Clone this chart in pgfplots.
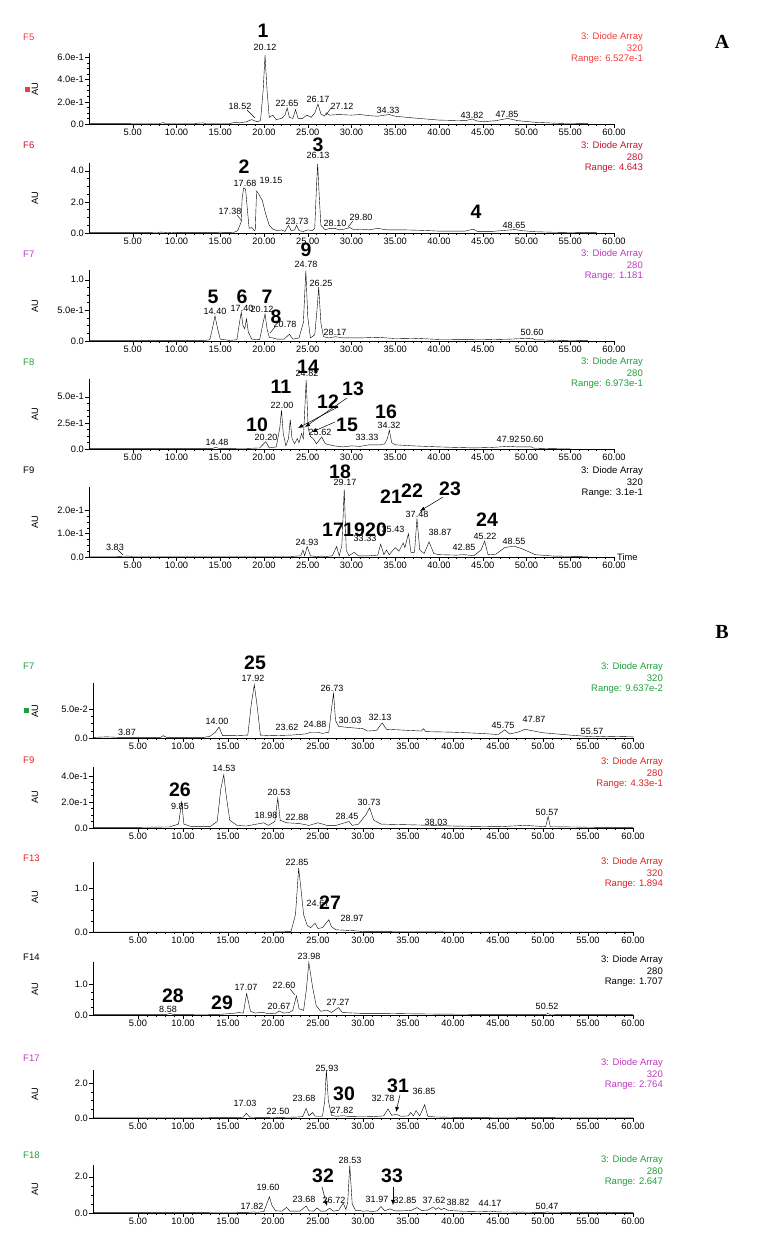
\documentclass[border=0pt]{standalone}
\usepackage{pgfplots}
\pgfplotsset{compat=1.18}
\usetikzlibrary{arrows.meta}
\usepackage{fontspec}
\setmainfont{Liberation Sans}
\newfontfamily\timesfont{Liberation Serif}

\definecolor{cPink}{HTML}{F03C3C}
\definecolor{cDred}{HTML}{C8102E}
\definecolor{cMag}{HTML}{C038C0}
\definecolor{cGrn}{HTML}{1E9E3C}
\definecolor{cRed}{HTML}{E02020}

\newcommand\tkf{\fontsize{9.3}{10}\selectfont}
\newcommand\pkf{\fontsize{9}{10}\selectfont}
\newcommand\bnf{\fontsize{19.5}{20}\selectfont\bfseries}
\newcommand\inff{\fontsize{9.5}{11}\selectfont}

\pgfplotsset{
  chrom/.style={
    scale only axis, anchor=south west,
    axis lines=left, axis line style={-, line width=0.6pt},
    xmin=0, xmax=60, ymin=0,
    xtick={5,10,...,60},
    xticklabels={5.00,10.00,15.00,20.00,25.00,30.00,35.00,40.00,45.00,50.00,55.00,60.00},
    minor x tick num=4, minor y tick num=3,
    tick align=outside, major tick length=4pt, minor tick length=2pt,
    tick style={black, line width=0.5pt},
    ticklabel style={font=\tkf, inner sep=1pt},
    scaled y ticks=false,
    clip=false,
    cycle list={{black, line width=0.6pt, mark=none}},
  },
  panA/.style={chrom, width=525pt},
  panB/.style={chrom, width=540pt},
}

\begin{document}
\begin{tikzpicture}
\path[use as bounding box] (0,0) rectangle (759pt,1255pt);

% ---------------- A ----------------
% F5
\begin{axis}[panA, at={(89pt,1131pt)}, height=71pt, ymax=0.64,
  ytick={0,0.2,0.4,0.6}, yticklabels={0.0,2.0e-1,4.0e-1,6.0e-1}]
\addplot coordinates {(0,0.003)(2,0.003)(5,0.004)(8,0.004)(8.5,0.012)(8.7,0.004)(12,0.004)(13,0.01)(13.4,0.004)(16,0.004)(16.8,0.015)(17.2,0.01)(18,0.02)(18.6,0.04)(19.2,0.02)(19.6,0.03)(19.9,0.3)(20.12,0.62)(20.35,0.3)(20.6,0.06)(21,0.08)(21.4,0.04)(22.0,0.05)(22.4,0.08)(22.65,0.145)(22.9,0.06)(23.3,0.05)(23.6,0.13)(23.9,0.05)(24.4,0.05)(24.9,0.08)(25.4,0.06)(25.8,0.1)(26.17,0.18)(26.5,0.09)(26.9,0.07)(27.12,0.1)(27.5,0.08)(28.5,0.085)(30,0.08)(31,0.085)(32,0.075)(33,0.07)(33.8,0.08)(34.33,0.085)(35,0.07)(37,0.055)(40,0.035)(43,0.03)(43.82,0.045)(44.3,0.028)(45,0.02)(46.5,0.03)(47.85,0.05)(49,0.03)(51,0.015)(54,0.005)(57,0.003)};
\end{axis}
% F6
\begin{axis}[panA, at={(89pt,1022pt)}, height=70pt, ymax=4.5,
  ytick={0,2,4}, yticklabels={0.0,2.0,4.0}]
\addplot coordinates {(0,0.02)(5,0.02)(7.8,0.03)(8.2,0.06)(9,0.03)(9.5,0.05)(10,0.02)(14.5,0.02)(15,0.06)(15.5,0.02)(16.5,0.03)(17.0,0.15)(17.38,0.7)(17.5,2.2)(17.68,2.9)(17.9,2.8)(18.1,1.5)(18.3,0.3)(18.6,0.35)(18.9,0.15)(19.0,0.2)(19.15,2.7)(19.4,2.5)(19.8,2.1)(20.2,1.2)(20.6,0.5)(21,0.25)(21.5,0.15)(22,0.2)(22.4,0.1)(22.8,0.5)(23.1,0.15)(23.5,0.2)(23.73,0.5)(24.0,0.15)(24.5,0.1)(25,0.2)(25.5,0.15)(25.8,0.3)(26.0,3.0)(26.13,4.45)(26.3,2.5)(26.5,0.5)(27,0.2)(27.5,0.3)(28.10,0.3)(28.6,0.2)(29.2,0.25)(29.8,0.35)(30.3,0.2)(31,0.25)(32,0.2)(33,0.3)(34,0.2)(36,0.2)(38,0.17)(40,0.12)(43,0.12)(43.9,0.25)(44.4,0.1)(46,0.1)(48.65,0.22)(49.5,0.15)(51,0.08)(53,0.05)(55,0.03)(58,0.02)};
\end{axis}
% F7
\begin{axis}[panA, at={(89pt,914pt)}, height=71pt, ymax=1.16,
  ytick={0,0.5,1}, yticklabels={0.0,5.0e-1,1.0}]
\addplot coordinates {(0,0.005)(5,0.005)(13,0.005)(13.8,0.02)(14.1,0.2)(14.40,0.41)(14.7,0.2)(15,0.03)(16,0.01)(16.9,0.02)(17.2,0.3)(17.40,0.47)(17.6,0.25)(17.8,0.2)(18.0,0.36)(18.2,0.15)(18.6,0.03)(19.5,0.02)(19.9,0.3)(20.12,0.44)(20.35,0.2)(20.6,0.06)(21,0.05)(21.5,0.03)(22.3,0.03)(22.9,0.11)(23.3,0.03)(24,0.05)(24.5,0.3)(24.78,1.15)(25.0,0.4)(25.3,0.05)(25.8,0.1)(26.05,0.5)(26.25,0.88)(26.5,0.3)(26.8,0.07)(27.4,0.05)(28.17,0.07)(29,0.05)(31,0.05)(33,0.06)(35,0.04)(37,0.045)(40,0.025)(45,0.02)(48,0.03)(50.6,0.045)(51,0.02)(54,0.01)(57,0.005)};
\end{axis}
% F8
\begin{axis}[panA, at={(89pt,806pt)}, height=70pt, ymax=0.67,
  ytick={0,0.25,0.5}, yticklabels={0.0,2.5e-1,5.0e-1}]
\addplot coordinates {(0,0.003)(10,0.003)(14,0.003)(14.48,0.015)(15,0.003)(18,0.005)(19.5,0.01)(20.20,0.07)(20.6,0.01)(21.4,0.02)(21.8,0.2)(22.00,0.37)(22.2,0.15)(22.5,0.03)(22.8,0.1)(23.0,0.28)(23.2,0.1)(23.5,0.05)(23.8,0.1)(24.0,0.06)(24.3,0.15)(24.5,0.1)(24.82,0.66)(25.05,0.2)(25.3,0.12)(25.62,0.1)(26,0.05)(26.6,0.115)(27,0.05)(28,0.03)(29,0.02)(30,0.03)(31,0.025)(32,0.04)(33.33,0.04)(33.8,0.05)(34.1,0.1)(34.32,0.18)(34.6,0.06)(35,0.04)(36,0.035)(37,0.03)(40,0.02)(44,0.01)(46,0.015)(47.92,0.025)(49,0.02)(50.6,0.02)(50.8,0.008)(53,0.003)(55,0.002)};
\end{axis}
% F9
\begin{axis}[panA, at={(89pt,698pt)}, height=70pt, ymax=0.30,
  ytick={0,0.1,0.2}, yticklabels={0.0,1.0e-1,2.0e-1}]
\addplot coordinates {(0,0.002)(3,0.002)(4.5,0.004)(5,0.002)(10,0.002)(20,0.002)(23,0.002)(24.2,0.005)(24.45,0.03)(24.65,0.005)(24.93,0.045)(25.3,0.005)(26,0.002)(26.6,0.004)(27,0.002)(27.8,0.005)(28.3,0.045)(28.6,0.005)(28.9,0.05)(29.17,0.29)(29.4,0.03)(29.7,0.005)(30.3,0.02)(30.8,0.005)(32,0.005)(33,0.008)(33.33,0.055)(33.7,0.01)(34.0,0.03)(34.3,0.01)(35.0,0.04)(35.43,0.025)(35.9,0.06)(36.1,0.04)(36.5,0.1)(36.8,0.02)(37.2,0.02)(37.48,0.165)(37.8,0.03)(38.3,0.015)(38.87,0.065)(39.4,0.015)(40,0.01)(42,0.008)(42.85,0.01)(44,0.006)(44.8,0.03)(45.22,0.068)(45.6,0.01)(46.5,0.012)(47.5,0.04)(48.55,0.047)(49.5,0.035)(51,0.01)(53,0.004)(57,0.002)};
\end{axis}

% ---------------- B ----------------
% F7
\begin{axis}[panB, at={(93pt,517pt)}, height=55pt, ymax=0.095,
  ytick={0,0.05}, yticklabels={0.0,5.0e-2}]
\addplot coordinates {(0,0.001)(1.5,0.002)(3,0.001)(7.5,0.001)(7.8,0.004)(8.2,0.001)(12.3,0.001)(13,0.003)(13.6,0.01)(14.00,0.019)(14.4,0.004)(15.5,0.004)(17.2,0.005)(17.6,0.06)(17.92,0.092)(18.2,0.06)(18.6,0.005)(20,0.004)(22,0.005)(23.62,0.007)(24.2,0.01)(24.88,0.01)(25.5,0.008)(26.2,0.01)(26.5,0.05)(26.73,0.077)(26.95,0.03)(27.3,0.02)(28.5,0.018)(30.03,0.016)(30.5,0.012)(31.5,0.013)(32.13,0.026)(32.6,0.015)(34,0.014)(36.5,0.012)(36.7,0.016)(37,0.011)(40,0.01)(43,0.008)(45,0.006)(45.75,0.014)(46.3,0.007)(47.2,0.01)(48,0.015)(50,0.009)(53,0.005)(55.57,0.002)(57,0.003)(60,0.002)};
\end{axis}
% F9
\begin{axis}[panB, at={(93pt,427pt)}, height=61pt, ymax=0.47,
  ytick={0,0.2,0.4}, yticklabels={0.0,2.0e-1,4.0e-1}]
\addplot coordinates {(0,0.005)(5,0.005)(8.5,0.008)(9.5,0.03)(9.85,0.2)(10.1,0.03)(11,0.01)(13,0.01)(13.8,0.05)(14.2,0.3)(14.53,0.41)(14.8,0.25)(15.2,0.06)(16,0.02)(17,0.015)(18.98,0.04)(19.5,0.02)(20.2,0.05)(20.53,0.23)(20.8,0.06)(21.5,0.04)(22.88,0.035)(24,0.02)(25,0.04)(26,0.02)(27,0.02)(28.45,0.05)(28.8,0.02)(29.5,0.03)(30.3,0.1)(30.73,0.155)(31.2,0.06)(32,0.03)(35,0.025)(38.03,0.02)(40,0.015)(45,0.01)(48,0.02)(50.3,0.01)(50.57,0.09)(50.8,0.01)(53,0.008)(56,0.005)(60,0.005)};
\end{axis}
% F13
\begin{axis}[panB, at={(93pt,323pt)}, height=70pt, ymax=1.6,
  ytick={0,1}, yticklabels={0.0,1.0}]
\addplot coordinates {(0,0.0)(20,0.0)(22,0.01)(22.5,0.4)(22.85,1.46)(23.1,1.0)(23.4,0.4)(23.8,0.15)(24.2,0.1)(24.67,0.2)(25,0.08)(25.5,0.1)(26.2,0.28)(26.5,0.12)(27,0.05)(28.97,0.03)(30,0.01)(35,0.005)(40,0.0)(60,0.0)};
\end{axis}
% F14
\begin{axis}[panB, at={(93pt,240pt)}, height=53pt, ymax=1.71,
  ytick={0,1}, yticklabels={0.0,1.0}]
\addplot coordinates {(0,0.01)(8,0.01)(8.58,0.05)(9,0.01)(14,0.02)(15.5,0.05)(16.2,0.08)(16.7,0.06)(17.07,0.69)(17.5,0.12)(18,0.06)(18.8,0.09)(19.5,0.04)(20.3,0.05)(20.67,0.13)(21.2,0.06)(21.8,0.08)(22.2,0.15)(22.6,0.62)(22.9,0.2)(23.4,0.15)(23.7,0.8)(23.98,1.69)(24.4,0.9)(24.8,0.3)(25.3,0.12)(26.0,0.16)(26.5,0.08)(27.27,0.24)(27.7,0.08)(30,0.05)(33,0.05)(35,0.04)(38,0.03)(43,0.02)(50.3,0.02)(50.52,0.05)(50.8,0.015)(55,0.01)(60,0.01)};
\end{axis}
% F17
\begin{axis}[panB, at={(93pt,137pt)}, height=48pt, ymax=2.77,
  ytick={0,2}, yticklabels={0.0,2.0}]
\addplot coordinates {(0,0.01)(10,0.01)(14,0.02)(16,0.02)(16.7,0.05)(17.03,0.28)(17.4,0.05)(18,0.04)(20,0.03)(22.5,0.05)(23.3,0.08)(23.68,0.55)(24.0,0.12)(24.4,0.32)(24.7,0.1)(25.5,0.1)(25.75,1.0)(25.93,2.76)(26.15,1.0)(26.5,0.15)(27,0.1)(27.82,0.13)(28.5,0.08)(30,0.07)(31,0.08)(32.3,0.12)(32.78,0.52)(33.2,0.15)(33.7,0.22)(34.2,0.1)(35.0,0.12)(35.3,0.32)(35.6,0.12)(35.9,0.43)(36.3,0.12)(36.85,0.76)(37.2,0.1)(38,0.06)(40,0.04)(45,0.03)(50,0.02)(55,0.01)(60,0.01)};
\end{axis}
% F18
\begin{axis}[panB, at={(93pt,42pt)}, height=48pt, ymax=2.65,
  ytick={0,2}, yticklabels={0.0,2.0}]
\addplot coordinates {(0,0.02)(10,0.02)(16,0.03)(17.5,0.04)(17.82,0.06)(18.2,0.04)(19.0,0.08)(19.3,0.5)(19.60,0.9)(19.9,0.4)(20.3,0.12)(21,0.1)(21.5,0.31)(21.9,0.1)(23,0.1)(23.68,0.39)(24.0,0.12)(24.5,0.1)(24.9,0.28)(25.3,0.1)(25.8,0.1)(26.3,0.26)(26.7,0.1)(27.3,0.15)(27.8,0.55)(28.1,0.2)(28.3,0.6)(28.53,2.63)(28.8,0.5)(29.2,0.12)(29.5,0.15)(30,0.1)(30.5,0.12)(31,0.08)(31.6,0.12)(32.0,0.36)(32.4,0.12)(33.0,0.23)(33.5,0.12)(34.5,0.12)(35.4,0.15)(36.0,0.3)(36.5,0.14)(37.2,0.16)(37.8,0.34)(38.1,0.2)(38.4,0.3)(38.7,0.18)(39.0,0.26)(39.5,0.14)(41,0.1)(43,0.08)(44.17,0.1)(45,0.06)(47,0.05)(48.5,0.04)(50.2,0.03)(50.47,0.07)(50.8,0.03)(53,0.02)(56,0.02)(60,0.02)};
\end{axis}

% ---------------- texts (image pixel coordinates) ----------------
\begin{scope}[x=1pt,y=-1pt,shift={(0pt,1255pt)}]
\tikzset{lead/.style={black, line width=0.4pt}, arr/.style={black, line width=0.5pt, -{Latex[length=5pt,width=4pt]}}}
% panel letters
\node[font=\timesfont\fontsize{20}{22}\selectfont\bfseries] at (722,42) {A};
\node[font=\timesfont\fontsize{20}{22}\selectfont\bfseries] at (722,632) {B};

% titles, AU, info
\foreach \t/\yy/\c in {F5/37/cPink, F6/145/cDred, F7/254/cMag, F8/362/cGrn, F9/470/black,
                      F7/666/cGrn, F9/760/cRed, F13/858/cRed, F14/957/black, F17/1058/cMag, F18/1155/cGrn}
  \node[font=\inff, text=\c, anchor=west, inner sep=0pt] at (23,\yy) {\t};
\foreach \yy in {89,198,306,414,522,711,797,897,989,1094,1189}
  \node[font=\tkf, rotate=90, inner sep=0pt] at (35,\yy) {AU};
\fill[cPink] (25,87) rectangle (30,92);
\fill[cGrn] (24,708) rectangle (29,713);

\foreach \xx/\yy/\c/\w/\r in {643/37/cPink/320/6.527e-1, 643/146/cDred/280/4.643, 643/254/cMag/280/1.181,
    643/362/cGrn/280/6.973e-1, 643/471/black/320/3.1e-1,
    663/667/cGrn/320/9.637e-2, 663/762/cRed/280/4.33e-1, 663/862/cRed/320/1.894,
    663/960/black/280/1.707, 663/1063/cMag/320/2.764, 663/1160/cGrn/280/2.647}{
  \node[font=\inff, text=\c, anchor=east, inner sep=0pt] at (\xx,\yy) {3: Diode Array};
  \node[font=\inff, text=\c, anchor=east, inner sep=0pt] at (\xx,\yy+11) {\w};
  \node[font=\inff, text=\c, anchor=east, inner sep=0pt] at (\xx,\yy+22) {Range: \r};
}
\node[font=\tkf, anchor=west, inner sep=0pt] at (617,557) {Time};

% A F5
\foreach \xx/\yy/\s in {265/47/20.12, 240/106/18.52, 287/103/22.65, 318/99/26.17, 342/106/27.12,
    388/110/34.33, 472/115/43.82, 507/114/47.85}
  \node[font=\pkf, inner sep=0pt] at (\xx,\yy) {\s};
\draw[lead] (247,110) -- (255,118);
\draw[lead] (331,108) -- (326,115);
\node[font=\bnf] at (263,31) {1};
% A F6
\foreach \xx/\yy/\s in {318/155/26.13, 245/183/17.68, 271/180/19.15, 230/211/17.38, 297/221/23.73,
    335/223/28.10, 361/217/29.80, 514/225/48.65}
  \node[font=\pkf, inner sep=0pt] at (\xx,\yy) {\s};
\draw[lead] (237,215) -- (242,221);
\draw[lead] (353,221) -- (348,227);
\node[font=\bnf] at (244,167) {2};
\node[font=\bnf] at (318,145) {3};
\node[font=\bnf] at (476,212) {4};
% A F7
\foreach \xx/\yy/\s in {306/264/24.78, 321/283/26.25, 215/311/14.40, 242/308/17.40, 262/309/20.12,
    285/324/20.78, 335/332/28.17, 532/332/50.60}
  \node[font=\pkf, inner sep=0pt] at (\xx,\yy) {\s};
\draw[lead] (275,327) -- (270,333);
\foreach \xx/\yy/\s in {306/250/9, 213/297/5, 242/297/6, 267/297/7, 276/317/8}
  \node[font=\bnf] at (\xx,\yy) {\s};
% A F8
\foreach \xx/\yy/\s in {307/373/24.82, 282/405/22.00, 266/437/20.20, 320/432/25.62, 217/442/14.48,
    367/437/33.33, 389/425/34.32, 508/439/47.92, 532/439/50.60}
  \node[font=\pkf, inner sep=0pt] at (\xx,\yy) {\s};
\foreach \xx/\yy/\s in {308/367/14, 281/387/11, 353/389/13, 328/402/12, 257/425/10, 347/425/15, 386/412/16}
  \node[font=\bnf] at (\xx,\yy) {\s};
\draw[arr] (338,407) -- (298,428);
\draw[arr] (347,398) -- (305,427);
\draw[arr] (335,422) -- (312,432);
% A F9
\foreach \xx/\yy/\s in {345/482/29.17, 417/514/37.48, 393/529/35.43, 365/538/33.33, 440/532/38.87,
    485/536/45.22, 464/547/42.85, 514/541/48.55, 307/542/24.93, 115/547/3.83}
  \node[font=\pkf, inner sep=0pt] at (\xx,\yy) {\s};
\draw[lead] (118,550) -- (123,555);
\foreach \xx/\yy/\s in {340/472/18, 333/530/17, 354/530/19, 376/530/20, 391/497/21, 412/491/22, 450/489/23, 487/520/24}
  \node[font=\bnf] at (\xx,\yy) {\s};
\draw[arr] (443,497) -- (420,511);

% B F7
\foreach \xx/\yy/\s in {253/678/17.92, 332/688/26.73, 217/721/14.00, 127/732/3.87, 287/727/23.62,
    315/724/24.88, 350/720/30.03, 380/717/32.13, 503/725/45.75, 534/719/47.87, 592/731/55.57}
  \node[font=\pkf, inner sep=0pt] at (\xx,\yy) {\s};
\node[font=\bnf] at (255,663) {25};
% B F9
\foreach \xx/\yy/\s in {180/806/9.85, 224/768/14.53, 279/792/20.53, 266/815/18.98, 297/817/22.88,
    347/816/28.45, 369/802/30.73, 436/822/38.03, 547/812/50.57}
  \node[font=\pkf, inner sep=0pt] at (\xx,\yy) {\s};
\node[font=\bnf] at (180,790) {26};
% B F13
\foreach \xx/\yy/\s in {297/862/22.85, 318/903/24.67, 352/918/28.97}
  \node[font=\pkf, inner sep=0pt] at (\xx,\yy) {\s};
\node[font=\bnf] at (330,903) {27};
% B F14
\foreach \xx/\yy/\s in {309/956/23.98, 284/985/22.60, 246/987/17.07, 279/1006/20.67, 338/1002/27.27,
    168/1009/8.58, 547/1006/50.52}
  \node[font=\pkf, inner sep=0pt] at (\xx,\yy) {\s};
\draw[lead] (290,989) -- (295,995);
\node[font=\bnf] at (173,996) {28};
\node[font=\bnf] at (222,1003) {29};
% B F17
\foreach \xx/\yy/\s in {327/1068/25.93, 245/1103/17.03, 304/1098/23.68, 278/1111/22.50, 342/1110/27.82,
    383/1098/32.78, 424/1091/36.85}
  \node[font=\pkf, inner sep=0pt] at (\xx,\yy) {\s};
\node[font=\bnf] at (344,1094) {30};
\node[font=\bnf] at (398,1086) {31};
\draw[arr] (400,1095) -- (396,1112);
% B F18
\foreach \xx/\yy/\s in {350/1160/28.53, 268/1187/19.60, 252/1206/17.82, 304/1199/23.68, 334/1200/26.72,
    377/1199/31.97, 405/1200/32.85, 434/1200/37.62, 458/1202/38.82, 490/1203/44.17, 547/1206/50.47}
  \node[font=\pkf, inner sep=0pt] at (\xx,\yy) {\s};
\node[font=\bnf] at (323,1176) {32};
\node[font=\bnf] at (392,1176) {33};
\draw[arr] (322,1187) -- (327,1206);
\draw[arr] (393,1187) -- (393,1205);
\end{scope}
\end{tikzpicture}
\end{document}
